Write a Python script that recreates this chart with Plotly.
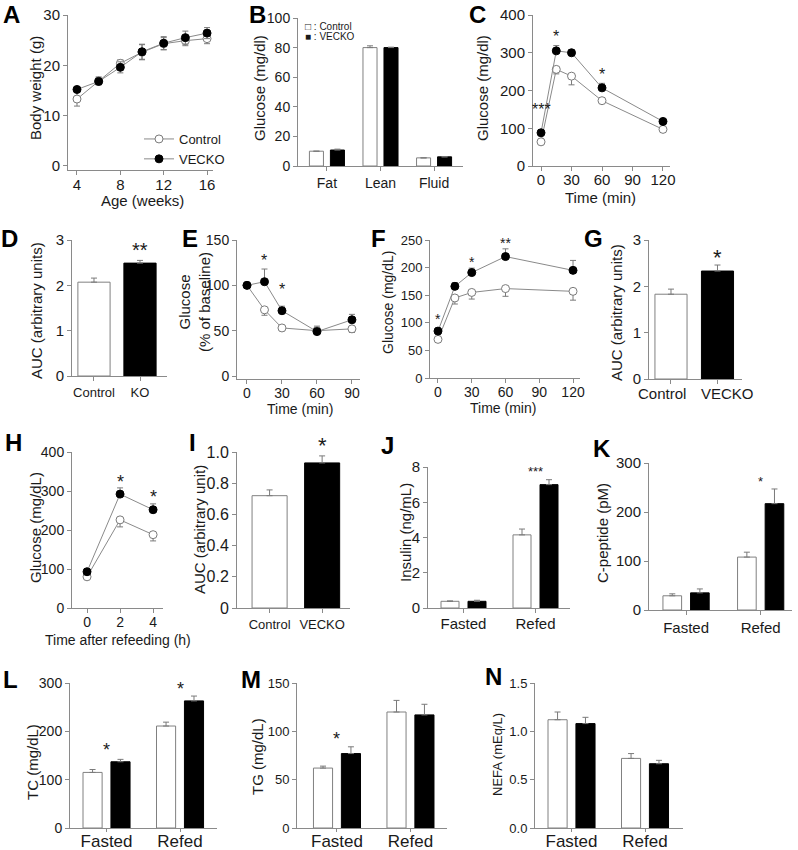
import plotly.graph_objects as go

W, H = 798, 850
FONT = "Liberation Sans, Arial, sans-serif"
AXC = "#8a8a8a"
TXT = "#1a1a1a"
ERRC = "#7a7a7a"
LINEC = "#8a8a8a"

# ---------------- data ----------------
# A body weight
age_weeks = [4, 6, 8, 10, 12, 14, 16]
bw_ctrl = [13.3, 16.9, 20.4, 22.6, 24.3, 24.9, 25.3]
bw_ctrl_err = [1.4, 0.8, 0.7, 1.5, 1.2, 1.0, 1.0]
bw_ko = [15.2, 16.8, 19.6, 22.7, 24.4, 25.5, 26.4]
bw_ko_err = [0.4, 0.6, 1.1, 1.5, 1.3, 1.3, 1.1]

# B body composition
comp_cats = ["Fat", "Lean", "Fluid"]
comp_ctrl = [10.0, 80.0, 5.5]
comp_ctrl_err = [0.0, 1.2, 0.0]
comp_ko = [10.8, 80.0, 6.2]
comp_ko_err = [0.6, 0.3, 0.0]

# C GTT
gtt_t = [0, 15, 30, 60, 120]
gtt_ctrl = [64, 256, 238, 173, 97]
gtt_ctrl_err = [6, 12, 23, 6, 4]
gtt_ko = [88, 305, 300, 207, 118]
gtt_ko_err = [8, 14, 8, 12, 5]

# D AUC
aucD_cats = ["Control", "KO"]
aucD_vals = [2.07, 2.49]
aucD_err = [0.09, 0.06]

# E ITT
itt_t = [0, 15, 30, 60, 90]
itt_ctrl = [100, 73, 53, 50, 52]
itt_ctrl_err_up = [0, 0, 0, 5, 0]
itt_ctrl_err_dn = [0, 6, 3, 0, 4]
itt_ko = [100, 104, 72, 49, 62]
itt_ko_err = [0, 14, 5, 0, 6]

# F
f_t = [0, 15, 30, 60, 120]
f_ctrl = [70, 145, 155, 162, 157]
f_ctrl_err = [3, 11, 12, 14, 16]
f_ko = [85, 166, 191, 220, 195]
f_ko_err = [5, 7, 8, 14, 18]

# G AUC
aucG_cats = ["Control", "VECKO"]
aucG_vals = [1.83, 2.33]
aucG_err = [0.11, 0.13]

# H refeeding
ref_t = [0, 2, 4]
ref_ctrl = [80, 226, 188]
ref_ctrl_err = [5, 18, 16]
ref_ko = [93, 292, 252]
ref_ko_err = [5, 16, 15]

# I AUC
aucI_cats = ["Control", "VECKO"]
aucI_vals = [0.72, 0.93]
aucI_err = [0.037, 0.045]

fed_cats = ["Fasted", "Refed"]
# J insulin
ins_ctrl = [0.38, 4.15]
ins_ctrl_err = [0.02, 0.33]
ins_ko = [0.38, 7.0]
ins_ko_err = [0.06, 0.28]
# K C-peptide
cpep_ctrl = [29, 108]
cpep_ctrl_err = [4, 10]
cpep_ko = [35, 217]
cpep_ko_err = [8, 30]
# L TC
tc_ctrl = [115, 211]
tc_ctrl_err = [6, 8]
tc_ko = [137, 263]
tc_ko_err = [5, 10]
# M TG
tg_ctrl = [62, 120]
tg_ctrl_err = [2, 12]
tg_ko = [77, 117]
tg_ko_err = [7, 11]
# N NEFA
nefa_ctrl = [1.12, 0.72]
nefa_ctrl_err = [0.08, 0.05]
nefa_ko = [1.08, 0.665]
nefa_ko_err = [0.065, 0.035]

# significance marks: (panel, x, y, text, size)
stars = [
    ("C", 0, 150, "***", 16), ("C", 15, 342, "*", 16), ("C", 60, 243, "*", 16),
    ("D", 1, 2.79, "**", 20),
    ("E", 15, 127, "*", 16), ("E", 30, 95, "*", 16),
    ("F", 0, 106, "*", 14), ("F", 30, 211, "*", 14), ("F", 60, 244, "**", 14),
    ("G", 1, 2.63, "*", 22),
    ("H", 2, 322, "*", 18), ("H", 4, 285, "*", 18),
    ("I", 1, 1.04, "*", 22),
    ("J", 1, 7.75, "***", 13),
    ("K", 1, 263, "*", 13),
    ("L", 0, 162, "*", 18), ("L", 1, 288, "*", 18),
    ("M", 0, 92, "*", 18),
]

# ---------------- layout helpers ----------------
def px_x(x):
    return x / W


def px_y(y):
    return 1 - y / H


fig = go.Figure()
layout = dict(
    width=W, height=H, margin=dict(l=0, r=0, t=0, b=0, pad=0, autoexpand=False),
    paper_bgcolor="white", plot_bgcolor="white",
    font=dict(family=FONT, color=TXT),
    barmode="overlay", showlegend=True,
)
annotations = []

panel_ids = {}
panel_ranges = {}


def add_axes(name, i, x0, x1, ytop, ybot, xr, yr, xt, xtt, yt, ytt, xfs, yfs, xticklen=4, xstand=0):
    panel_ids[name] = i
    panel_ranges[name] = yr
    s = "" if i == 1 else str(i)
    layout["xaxis" + s] = dict(
        domain=[px_x(x0), px_x(x1)], range=xr, anchor="y" + s, automargin=False,
        showline=True, linecolor=AXC, linewidth=1, ticks="outside", ticklen=xticklen,
        tickcolor=AXC, tickmode="array", tickvals=xt, ticktext=xtt, tickangle=0,
        ticklabelstandoff=xstand,
        tickfont=dict(size=xfs, color=TXT), showgrid=False, zeroline=False,
    )
    layout["yaxis" + s] = dict(
        domain=[px_y(ybot), px_y(ytop)], range=yr, anchor="x" + s, automargin=False,
        showline=True, linecolor=AXC, linewidth=1, ticks="outside", ticklen=4,
        tickcolor=AXC, tickmode="array", tickvals=yt, ticktext=ytt,
        tickfont=dict(size=yfs, color=TXT), showgrid=False, zeroline=False,
    )
    return "x" + s, "y" + s


def err(up, dn=None):
    return dict(type="data", array=up, arrayminus=dn if dn is not None else [0] * len(up),
                symmetric=False, color=ERRC, thickness=1, width=3)


def line_pair(xa, ya, x, yc, ecu, ecd, yk, eku, ekd, msize=8, legend=False, lg=None):
    fig.add_trace(go.Scatter(
        x=x, y=yc, mode="lines+markers", xaxis=xa, yaxis=ya, name="Control",
        line=dict(color=LINEC, width=1),
        marker=dict(symbol="circle", size=msize, color="white", line=dict(color="#7a7a7a", width=1)),
        error_y=err(ecu, ecd), showlegend=legend, legend=lg,
    ))
    fig.add_trace(go.Scatter(
        x=x, y=yk, mode="lines+markers", xaxis=xa, yaxis=ya, name="VECKO",
        line=dict(color=LINEC, width=1),
        marker=dict(symbol="circle", size=msize, color="black", line=dict(color="black", width=1)),
        error_y=err(eku, ekd), showlegend=legend, legend=lg,
    ))


def bar_pair(xa, ya, yc, ec, yk, ek, w, g):
    n = len(yc)
    xs = list(range(n))
    fig.add_trace(go.Bar(
        x=xs, y=yc, width=w, offset=-g / 2 - w, xaxis=xa, yaxis=ya, showlegend=False,
        marker=dict(color="white", line=dict(color="#808080", width=1)), error_y=err(ec),
    ))
    fig.add_trace(go.Bar(
        x=xs, y=yk, width=w, offset=g / 2, xaxis=xa, yaxis=ya, showlegend=False,
        marker=dict(color="black", line=dict(color="black", width=1)), error_y=err(ek),
    ))


def bar_single(xa, ya, vals, errs, w):
    xs = list(range(len(vals)))
    fig.add_trace(go.Bar(
        x=xs, y=vals, width=w, offset=-w / 2, xaxis=xa, yaxis=ya, showlegend=False,
        marker=dict(color=["white", "black"], line=dict(color=["#808080", "black"], width=1)),
        error_y=err(errs),
    ))


def title(x, y, text, size=15, angle=-90):
    annotations.append(dict(x=px_x(x), y=px_y(y), xref="paper", yref="paper", text=text,
                            showarrow=False, textangle=angle, font=dict(size=size, color=TXT),
                            xanchor="center", yanchor="middle"))


def letter(x, y, text):
    annotations.append(dict(x=px_x(x), y=px_y(y), xref="paper", yref="paper",
                            text="<b>" + text + "</b>", showarrow=False,
                            font=dict(size=24, color="black"), xanchor="center", yanchor="middle"))


# ---------------- panels ----------------
# A
xa, ya = add_axes("A", 1, 68, 213, 15, 170, [3.17, 16.55], [-0.8, 30], [4, 8, 12, 16], None,
                  [0, 10, 20, 30], None, 15, 15, xstand=-3)
line_pair(xa, ya, age_weeks, bw_ctrl, bw_ctrl_err, bw_ctrl_err, bw_ko, bw_ko_err, bw_ko_err,
          msize=8, legend=True, lg="legend")
title(36, 88, "Body weight (g)")
title(142, 201, "Age (weeks)", angle=0)

# B
xa, ya = add_axes("B", 2, 298, 463, 18, 166, [-0.54, 2.54], [0, 100], [0, 1, 2], comp_cats,
                  [0, 20, 40, 60, 80, 100], None, 14, 14)
bar_pair(xa, ya, comp_ctrl, comp_ctrl_err, comp_ko, comp_ko_err, 0.262, 0.13)
title(260, 88, "Glucose (mg/dl)")
annotations.append(dict(x=px_x(303), y=px_y(26), xref="paper", yref="paper", text="□ : Control",
                        showarrow=False, font=dict(size=10, color=TXT), xanchor="left", yanchor="middle"))
annotations.append(dict(x=px_x(303), y=px_y(36), xref="paper", yref="paper", text="■ : VECKO",
                        showarrow=False, font=dict(size=10, color=TXT), xanchor="left", yanchor="middle"))

# C
xa, ya = add_axes("C", 3, 533, 670, 15, 166, [-7.9, 126.9], [0, 400], [0, 30, 60, 90, 120], None,
                  [0, 100, 200, 300, 400], None, 15, 15, xstand=-4)
line_pair(xa, ya, gtt_t, gtt_ctrl, [0] * 5, gtt_ctrl_err, gtt_ko, gtt_ko_err, [0] * 5, msize=8)
title(483, 88, "Glucose (mg/dl)")
title(600, 198, "Time (min)", angle=0)

# D
xa, ya = add_axes("D", 4, 72, 167, 240, 376, [-0.478, 1.587], [0, 3], [0, 1], aucD_cats,
                  [0, 1, 2, 3], None, 13, 15)
bar_single(xa, ya, aucD_vals, aucD_err, 0.7)
title(36, 311, "AUC (arbitrary units)")

# E
xa, ya = add_axes("E", 5, 237, 360, 240, 379, [-8.57, 96.9], [-3.3, 150], [0, 30, 60, 90], None,
                  [0, 50, 100, 150], None, 14, 14, xstand=-3)
line_pair(xa, ya, itt_t, itt_ctrl, itt_ctrl_err_up, itt_ctrl_err_dn, itt_ko, itt_ko_err, [0] * 5, msize=8)
title(195, 302, "Glucose<br>(% of baseline)")
title(300, 409, "Time (min)", size=14, angle=0)

# F
xa, ya = add_axes("F", 6, 430, 580, 240, 378, [-7.1, 126.2], [0, 250], [0, 30, 60, 90, 120], None,
                  [0, 50, 100, 150, 200, 250], None, 14, 13, xstand=-3)
line_pair(xa, ya, f_t, f_ctrl, [0] * 5, f_ctrl_err, f_ko, f_ko_err, [0] * 5, msize=8)
title(388, 303, "Glucose (mg/dL)", size=14)
title(503, 408, "Time (min)", size=14, angle=0)

# G (category labels drawn as annotations, offset as in the original)
xa, ya = add_axes("G", 7, 649, 742, 240, 379, [-0.473, 1.527], [0, 3], [0, 1], ["", ""],
                  [0, 1, 2, 3], None, 15, 15)
bar_single(xa, ya, aucG_vals, aucG_err, 0.69)
title(617, 313, "AUC (arbitrary units)")
for k, (lab, shift) in enumerate(zip(aucG_cats, [-9, 10])):
    annotations.append(dict(x=k, y=px_y(393), xref=xa, yref="paper", text=lab, showarrow=False,
                            xshift=shift, font=dict(size=15, color=TXT),
                            xanchor="center", yanchor="middle"))

# H
xa, ya = add_axes("H", 8, 72, 163, 452, 608, [-0.91, 4.6], [0, 400], [0, 2, 4], None,
                  [0, 100, 200, 300, 400], None, 14, 14, xstand=-3)
line_pair(xa, ya, ref_t, ref_ctrl, [0] * 3, ref_ctrl_err, ref_ko, ref_ko_err, [0] * 3, msize=8)
title(35, 528, "Glucose (mg/dL)")
title(118, 640, "Time after refeeding (h)", size=14, angle=0)

# I
xa, ya = add_axes("I", 9, 237, 350, 452, 608, [-0.62, 1.53], [0, 1.0], [0, 1], aucI_cats,
                  [0, 0.2, 0.4, 0.6, 0.8, 1.0], ["0", "0.2", "0.4", "0.6", "0.8", "1.0"], 13, 16)
bar_single(xa, ya, aucI_vals, aucI_err, 0.667)
title(199, 530, "AUC (arbitrary unit)")

# J
xa, ya = add_axes("J", 10, 428, 570, 467, 608, [-0.493, 1.479], [0, 8], [0, 1], fed_cats,
                  [0, 2, 4, 6, 8], None, 15, 15, xstand=-2)
bar_pair(xa, ya, ins_ctrl, ins_ctrl_err, ins_ko, ins_ko_err, 0.25, 0.125)
title(405, 533, "Insulin (ng/mL)")

# K
xa, ya = add_axes("K", 11, 649, 792, 463, 610, [-0.497, 1.42], [0, 300], [0, 1], fed_cats,
                  [0, 100, 200, 300], None, 15, 15)
bar_pair(xa, ya, cpep_ctrl, cpep_ctrl_err, cpep_ko, cpep_ko_err, 0.25, 0.12)
title(602, 533, "C-peptide (pM)")

# L
xa, ya = add_axes("L", 12, 70, 217, 683, 828, [-0.497, 1.503], [0, 300], [0, 1], fed_cats,
                  [0, 100, 200, 300], None, 17, 14, xticklen=3, xstand=-5)
bar_pair(xa, ya, tc_ctrl, tc_ctrl_err, tc_ko, tc_ko_err, 0.26, 0.12)
title(32, 762, "TC (mg/dL)")

# M
xa, ya = add_axes("M", 13, 297, 447, 683, 828, [-0.544, 1.497], [0, 150], [0, 1], fed_cats,
                  [0, 50, 100, 150], None, 17, 13, xticklen=3, xstand=-5)
bar_pair(xa, ya, tg_ctrl, tg_ctrl_err, tg_ko, tg_ko_err, 0.26, 0.12)
title(257, 757, "TG (mg/dL)")

# N
xa, ya = add_axes("N", 14, 535, 683, 683, 828, [-0.497, 1.517], [0, 1.5], [0, 1], fed_cats,
                  [0, 0.5, 1.0, 1.5], ["0.0", "0.5", "1.0", "1.5"], 17, 13, xticklen=3, xstand=-5)
bar_pair(xa, ya, nefa_ctrl, nefa_ctrl_err, nefa_ko, nefa_ko_err, 0.26, 0.12)
title(497, 755, "NEFA (mEq/L)", size=13)

# panel letters
for lt, (x, y) in {"A": (11, 14), "B": (257, 14), "C": (477, 14), "D": (9, 238), "E": (190, 238),
                   "F": (378, 238), "G": (593, 238), "H": (13, 443), "I": (192, 443), "J": (387, 446),
                   "K": (602, 449), "L": (10, 679), "M": (251, 679), "N": (493, 676)}.items():
    letter(x, y, lt)

# stars (y given in data units, placed relative to the axis domain)
for p, x, y, t, sz in stars:
    i = panel_ids[p]
    s = "" if i == 1 else str(i)
    r0, r1 = panel_ranges[p]
    annotations.append(dict(x=x, y=(y - r0) / (r1 - r0), xref="x" + s, yref="y" + s + " domain",
                            text=t, showarrow=False,
                            font=dict(size=sz, color=TXT), xanchor="center", yanchor="middle"))

layout["annotations"] = annotations
layout["legend"] = dict(x=px_x(139), y=px_y(124), xanchor="left", yanchor="top",
                        font=dict(size=13, color=TXT), bgcolor="rgba(0,0,0,0)",
                        itemwidth=30, tracegroupgap=0)
fig.update_layout(**layout)
fig.write_html("out.html", config={"displayModeBar": False},
               post_script="document.body.style.margin='0';document.body.style.overflow='hidden';")
